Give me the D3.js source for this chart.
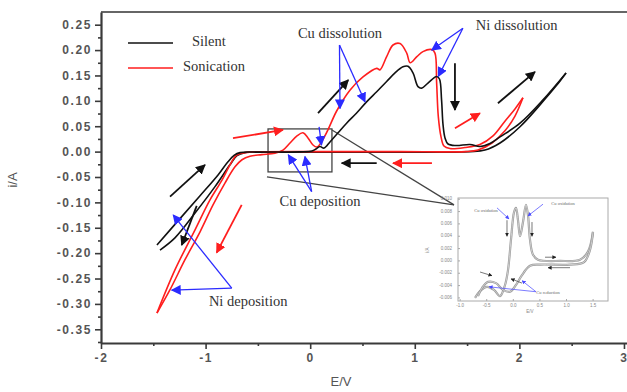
<!DOCTYPE html>
<html><head><meta charset="utf-8">
<script src="https://cdn.jsdelivr.net/npm/d3@7"></script>
<style>body{margin:0;background:#fff}svg{display:block}</style>
</head><body>
<svg id="c" width="627" height="392"></svg>
<script>
// ---------- data ----------
const xTicks = [-2, -1, 0, 1, 2, 3];
const xMinor = [-1.5, -0.5, 0.5, 1.5, 2.5];
const yTicks = [0.25, 0.20, 0.15, 0.10, 0.05, 0.00, -0.05, -0.10, -0.15, -0.20, -0.25, -0.30, -0.35];
const yMinor = [0.225, 0.175, 0.125, 0.075, 0.025, -0.025, -0.075, -0.125, -0.175, -0.225, -0.275, -0.325, -0.375];
const seriesNames = ["Silent", "Sonication"];

const silentForward = [[-1.465,-0.184],[-1.245,-0.132],[-1.053,-0.087],[-0.881,-0.046],[-0.786,-0.020],[-0.728,-0.0075],[-0.671,-0.002],[-0.480,-0.001],[-0.098,-0.0006],[0.017,0.001],[0.055,0.005],[0.094,0.010],[0.132,0.007],[0.189,0.019],[0.266,0.037],[0.348,0.056],[0.444,0.076],[0.539,0.098],[0.636,0.118],[0.731,0.138],[0.811,0.155],[0.887,0.167],[0.935,0.168],[0.983,0.155],[1.031,0.128],[1.066,0.125],[1.126,0.135],[1.209,0.148],[1.236,0.143],[1.256,0.102],[1.270,0.053],[1.289,0.027],[1.318,0.015],[1.394,0.012],[1.528,0.014],[1.623,0.010],[1.719,0.016],[1.815,0.029],[2.006,0.056],[2.226,0.102],[2.446,0.155]];
const silentReverse = [[2.446,0.155],[2.350,0.129],[2.197,0.092],[2.006,0.049],[1.815,0.017],[1.671,0.003],[1.528,0.000],[0.859,-0.001],[-0.098,-0.001],[-0.623,-0.002],[-0.700,-0.008],[-0.767,-0.026],[-0.910,-0.069],[-1.101,-0.121],[-1.293,-0.170],[-1.436,-0.194]];
const sonicForward = [[-1.465,-0.318],[-1.340,-0.272],[-1.197,-0.213],[-1.053,-0.158],[-0.929,-0.105],[-0.815,-0.062],[-0.719,-0.030],[-0.652,-0.016],[-0.576,-0.009],[-0.461,-0.006],[-0.337,-0.003],[-0.260,0.003],[-0.193,0.017],[-0.126,0.031],[-0.069,0.037],[-0.021,0.027],[0.027,0.013],[0.065,0.009],[0.113,0.021],[0.170,0.043],[0.253,0.080],[0.380,0.121],[0.505,0.147],[0.636,0.164],[0.667,0.161],[0.731,0.187],[0.792,0.210],[0.859,0.213],[0.923,0.194],[0.956,0.175],[1.020,0.187],[1.078,0.197],[1.162,0.201],[1.193,0.194],[1.209,0.135],[1.225,0.069],[1.251,0.029],[1.279,0.011],[1.336,0.006],[1.480,0.008],[1.623,0.014],[1.748,0.031],[1.862,0.060],[1.958,0.084],[2.034,0.106]];
const sonicReverse = [[2.034,0.106],[1.958,0.070],[1.862,0.041],[1.738,0.017],[1.604,0.003],[1.480,0.000],[0.859,0.000],[0.189,0.000],[-0.576,-0.001],[-0.652,-0.003],[-0.709,-0.008],[-0.767,-0.026],[-0.843,-0.056],[-0.958,-0.095],[-1.101,-0.154],[-1.293,-0.233],[-1.465,-0.318]];

// annotation arrows [x1,y1,x2,y2] in data units
const blackArrows = [[-1.340,-0.0886,-1.006,-0.0262],[-1.085,-0.107,-1.228,-0.184],[0.075,0.0756,0.364,0.141],[1.384,0.174,1.384,0.082],[1.795,0.0953,2.149,0.157],[0.636,-0.0228,0.301,-0.0228]];
const redArrows = [[-0.738,0.0264,-0.260,0.0427],[-0.655,-0.105,-0.894,-0.199],[1.164,-0.0228,0.792,-0.0228],[1.384,0.046,1.623,0.0756]];
const blueArrows = [[0.280,0.210,0.285,0.085],[0.280,0.210,0.524,0.098],[1.460,0.243,1.162,0.200],[1.460,0.243,1.225,0.148],[0.014,-0.0787,-0.209,-0.0065],[0.014,-0.0787,-0.050,-0.0098],[0.085,0.0486,0.108,0.0131],[-0.750,-0.269,-1.309,-0.125],[-0.750,-0.269,-1.324,-0.273]];
const labels = [["Cu dissolution",0.285,0.231],["Ni dissolution",1.974,0.247],["Cu deposition",0.094,-0.101],["Ni deposition",-0.593,-0.298]];
const zoomBox = [-0.403,0.0447,0.208,-0.040];
const connectors = [[0.208,0.0427,1.375,-0.105],[-0.413,-0.0498,1.375,-0.105]];

// inset data
const insetXTicks = [-1.0,-0.5,0.0,0.5,1.0,1.5];
const insetYTicks = [0.010,0.008,0.006,0.004,0.002,0.000,-0.002,-0.004,-0.006];
const insetCurve1 = [[-0.72,-0.0060],[-0.626,-0.0049],[-0.495,-0.0042],[-0.363,-0.0047],[-0.250,-0.0057],[-0.156,-0.0039],[-0.100,-0.0015],[-0.044,0.0034],[0.013,0.0079],[0.050,0.0086],[0.088,0.0066],[0.126,0.0040],[0.182,0.0063],[0.238,0.0091],[0.276,0.0074],[0.314,0.0034],[0.370,0.0010],[0.464,0.0002],[0.878,0.0000],[1.254,0.0002],[1.404,0.0015],[1.498,0.0047]];
const insetCurve2 = [[1.498,0.0047],[1.442,0.0018],[1.329,-0.0002],[1.066,-0.0006],[0.502,-0.0006],[0.314,-0.0008],[0.163,-0.0023],[0.050,-0.0039],[-0.062,-0.0050],[-0.194,-0.0047],[-0.326,-0.0036],[-0.476,-0.0034],[-0.589,-0.0044],[-0.664,-0.0057]];
const insetLabels = [["Cu oxidation",-0.514,0.0081],["Cu oxidation",0.934,0.0092],["Cu reduction",0.652,-0.0052]];
const insetBlue = [[-0.307,0.0086,-0.081,0.0068],[0.558,0.0092,0.276,0.0073],[0.426,-0.0050,-0.457,-0.0042],[0.426,-0.0050,0.163,-0.0032]];
const insetBlack = [[0.596,0.0006,0.802,0.0006],[1.066,-0.0011,0.652,-0.0011],[-0.119,0.0066,-0.119,0.0040],[0.351,0.0063,0.351,0.0040],[-0.626,-0.0018,-0.401,-0.0024],[0.163,-0.0036,-0.044,-0.0029]];

// ---------- drawing ----------
const svg = d3.select("#c");
const x = d3.scaleLinear().domain([-2, 3.029]).range([101, 627]);
const y = d3.scaleLinear().domain([-0.377, 0.275]).range([343, 12]);

const defs = svg.append("defs");
function marker(id, color, size) {
  defs.append("marker").attr("id", id).attr("viewBox", "0 0 10 10")
    .attr("refX", 9).attr("refY", 5).attr("markerUnits", "userSpaceOnUse")
    .attr("markerWidth", size).attr("markerHeight", size).attr("orient", "auto")
    .append("path").attr("d", "M0,0 L10,5 L0,10 Z").attr("fill", color);
}
marker("mk", "#111", 10); marker("mr", "#ff1e1e", 10); marker("mb", "#2b2bff", 10);
marker("mks", "#222", 4); marker("mbs", "#4a4aff", 4);

const axisColor = "#3a3a3a";
// top frame
svg.append("line").attr("x1", 101).attr("x2", 627).attr("y1", 12).attr("y2", 12)
  .attr("stroke", "#666").attr("stroke-width", 2);

// y axis
const gy = svg.append("g").attr("transform", "translate(101,0)");
gy.call(d3.axisLeft(y).tickValues(yTicks).tickFormat(d => d.toFixed(2)).tickSize(6).tickSizeOuter(0));
gy.append("g").call(d3.axisLeft(y).tickValues(yMinor).tickFormat("").tickSize(3).tickSizeOuter(0))
  .select(".domain").remove();
// x axis
const gx = svg.append("g").attr("transform", "translate(0,343)");
gx.call(d3.axisBottom(x).tickValues(xTicks).tickFormat(d => String(d)).tickSize(6).tickSizeOuter(0));
gx.append("g").call(d3.axisBottom(x).tickValues(xMinor).tickFormat("").tickSize(3).tickSizeOuter(0))
  .select(".domain").remove();
svg.selectAll(".domain").attr("stroke", axisColor).attr("stroke-width", 2.2);
svg.selectAll(".tick line").attr("stroke", axisColor).attr("stroke-width", 1.6);
svg.selectAll(".tick text").attr("fill", "#555").style("font-family", "Liberation Sans, Arial, sans-serif")
  .style("font-size", "12px").style("font-weight", "bold").style("letter-spacing", "1.6px");
gy.selectAll(".tick text").attr("x", -9);
gx.selectAll(".tick text").attr("y", 10);

svg.append("text").attr("x", 341).attr("y", 386).attr("text-anchor", "middle")
  .attr("fill", "#555").style("font-family", "Liberation Sans, Arial, sans-serif").style("font-size", "13px").text("E/V");
svg.append("text").attr("transform", "translate(17,180) rotate(-90)").attr("text-anchor", "middle")
  .attr("fill", "#555").style("font-family", "Liberation Sans, Arial, sans-serif").style("font-size", "13px").text("i/A");

// connector lines & zoom box
svg.selectAll(".conn").data(connectors).enter().append("line")
  .attr("x1", d => x(d[0])).attr("y1", d => y(d[1])).attr("x2", d => x(d[2])).attr("y2", d => y(d[3]))
  .attr("stroke", "#444").attr("stroke-width", 1.3);
svg.append("rect").attr("x", x(zoomBox[0])).attr("y", y(zoomBox[1]))
  .attr("width", x(zoomBox[2]) - x(zoomBox[0])).attr("height", y(zoomBox[3]) - y(zoomBox[1]))
  .attr("fill", "none").attr("stroke", "#444").attr("stroke-width", 1.3);

// curves
const line = d3.line().x(d => x(d[0])).y(d => y(d[1])).curve(d3.curveCatmullRom.alpha(0.5));
function curve(data, color, w) {
  svg.append("path").datum(data).attr("d", line).attr("fill", "none")
    .attr("stroke", color).attr("stroke-width", w).attr("stroke-linejoin", "round");
}
curve(silentReverse, "#111", 1.6);
curve(sonicReverse, "#ff1e1e", 1.6);
curve(sonicForward, "#ff1e1e", 1.6);
curve(silentForward, "#111", 1.6);

// arrows
function arrows(data, color, mk, w) {
  svg.append("g").selectAll("line").data(data).enter().append("line")
    .attr("x1", d => x(d[0])).attr("y1", d => y(d[1])).attr("x2", d => x(d[2])).attr("y2", d => y(d[3]))
    .attr("stroke", color).attr("stroke-width", w).attr("marker-end", `url(#${mk})`);
}
arrows(blackArrows, "#111", "mk", 1.8);
arrows(redArrows, "#ff1e1e", "mr", 1.8);
arrows(blueArrows, "#2b2bff", "mb", 1.3);

// labels
svg.selectAll(".lbl").data(labels).enter().append("text")
  .attr("x", d => x(d[1])).attr("y", d => y(d[2])).attr("text-anchor", "middle").attr("dominant-baseline", "middle")
  .attr("fill", "#333").style("font-family", "Liberation Serif, Times New Roman, serif").style("font-size", "14.5px")
  .text(d => d[0]);

// legend
const legend = [{name: seriesNames[0], color: "#111", ly: 43, tx: 192}, {name: seriesNames[1], color: "#ff1e1e", ly: 68, tx: 183}];
legend.forEach(l => {
  svg.append("line").attr("x1", 128).attr("x2", 173).attr("y1", l.ly).attr("y2", l.ly)
    .attr("stroke", l.color).attr("stroke-width", 1.6);
  svg.append("text").attr("x", l.tx).attr("y", l.ly).attr("dominant-baseline", "middle")
    .attr("fill", "#333").style("font-family", "Liberation Serif, Times New Roman, serif").style("font-size", "14.5px")
    .text(l.name);
});

// inset
const ix = d3.scaleLinear().domain([-1.04, 1.78]).range([458, 608]);
const iy = d3.scaleLinear().domain([-0.0065, 0.0102]).range([301, 198]);
const gi = svg.append("g");
gi.append("rect").attr("x", 458).attr("y", 198).attr("width", 150).attr("height", 103)
  .attr("fill", "none").attr("stroke", "#aaa").attr("stroke-width", 1);
gi.selectAll(".ixt").data(insetXTicks).enter().append("text")
  .attr("x", d => ix(d)).attr("y", 307).attr("text-anchor", "middle").attr("fill", "#888")
  .style("font-family", "Liberation Sans, sans-serif").style("font-size", "4.5px").text(d => d.toFixed(1));
gi.selectAll(".ixl").data(insetXTicks).enter().append("line")
  .attr("x1", d => ix(d)).attr("x2", d => ix(d)).attr("y1", 301).attr("y2", 299).attr("stroke", "#aaa");
gi.selectAll(".iyt").data(insetYTicks).enter().append("text")
  .attr("x", 452).attr("y", d => iy(d)).attr("text-anchor", "end").attr("dominant-baseline", "middle").attr("fill", "#888")
  .style("font-family", "Liberation Sans, sans-serif").style("font-size", "4.5px").text(d => d.toFixed(3));
gi.selectAll(".iyl").data(insetYTicks).enter().append("line")
  .attr("x1", 458).attr("x2", 460).attr("y1", d => iy(d)).attr("y2", d => iy(d)).attr("stroke", "#aaa");
gi.append("text").attr("transform", "translate(429,250) rotate(-90)").attr("text-anchor", "middle")
  .attr("fill", "#888").style("font-family", "Liberation Sans, sans-serif").style("font-size", "4.5px").text("i/A");
gi.append("text").attr("x", 530).attr("y", 313).attr("text-anchor", "middle")
  .attr("fill", "#888").style("font-family", "Liberation Sans, sans-serif").style("font-size", "4.5px").text("E/V");
const iline = d3.line().x(d => ix(d[0])).y(d => iy(d[1])).curve(d3.curveCatmullRom.alpha(0.5));
[insetCurve1, insetCurve2].forEach(c => {
  gi.append("path").datum(c).attr("d", iline).attr("fill", "none").attr("stroke", "#9a9a9a").attr("stroke-width", 2.2);
  gi.append("path").datum(c).attr("d", iline).attr("fill", "none").attr("stroke", "#e4e4e4").attr("stroke-width", 0.7);
});
gi.selectAll(".ib").data(insetBlue).enter().append("line")
  .attr("x1", d => ix(d[0])).attr("y1", d => iy(d[1])).attr("x2", d => ix(d[2])).attr("y2", d => iy(d[3]))
  .attr("stroke", "#5a5aff").attr("stroke-width", 0.8).attr("marker-end", "url(#mbs)");
gi.selectAll(".ik").data(insetBlack).enter().append("line")
  .attr("x1", d => ix(d[0])).attr("y1", d => iy(d[1])).attr("x2", d => ix(d[2])).attr("y2", d => iy(d[3]))
  .attr("stroke", "#555").attr("stroke-width", 0.8).attr("marker-end", "url(#mks)");
gi.selectAll(".il").data(insetLabels).enter().append("text")
  .attr("x", d => ix(d[1])).attr("y", d => iy(d[2])).attr("text-anchor", "middle").attr("dominant-baseline", "middle")
  .attr("fill", "#666").style("font-family", "Liberation Serif, serif").style("font-size", "4.5px").text(d => d[0]);
</script>
</body></html>
